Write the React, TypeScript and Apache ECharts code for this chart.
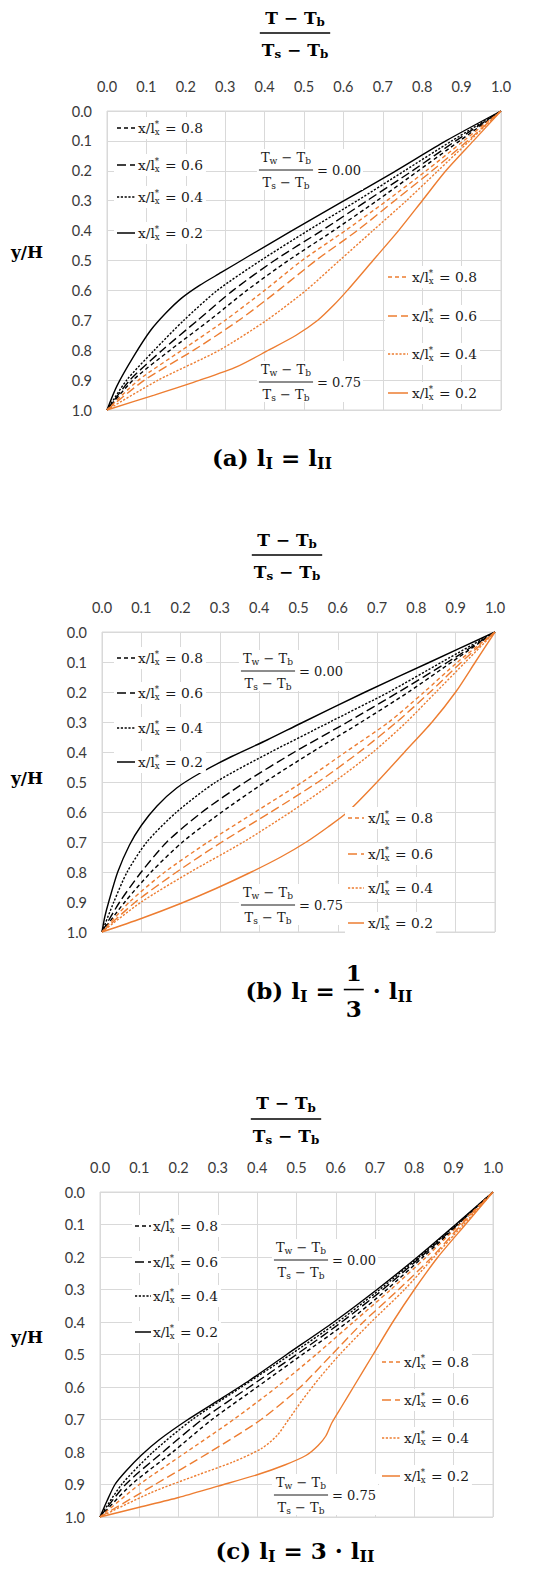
import React, { useEffect, useRef } from "react";
import * as echarts from "echarts";

// ---------------- DATA ----------------
const LEVELS = ["0.8", "0.6", "0.4", "0.2"];

// Panel (a)  l_I = l_II     points are [T ratio, y/H]
const A_B08 = [[0,1],[0.066,0.9],[0.16,0.8],[0.26,0.7],[0.355,0.6],[0.46,0.5],[0.575,0.4],[0.685,0.3],[0.79,0.2],[0.895,0.1],[1,0]];
const A_B06 = [[0,1],[0.058,0.9],[0.14,0.8],[0.23,0.7],[0.32,0.6],[0.425,0.5],[0.545,0.4],[0.66,0.3],[0.775,0.2],[0.885,0.1],[1,0]];
const A_B04 = [[0,1],[0.05,0.9],[0.12,0.8],[0.195,0.7],[0.28,0.6],[0.39,0.5],[0.51,0.4],[0.635,0.3],[0.755,0.2],[0.875,0.1],[1,0]];
const A_B02 = [[0,1],[0.025,0.92],[0.068,0.82],[0.11,0.735],[0.15,0.675],[0.19,0.625],[0.235,0.583],[0.29,0.54],[0.36,0.485],[0.463,0.405],[0.595,0.305],[0.727,0.205],[0.86,0.1],[1,0]];
const A_O08 = [[0,1],[0.08,0.9],[0.19,0.8],[0.3,0.7],[0.4,0.6],[0.495,0.5],[0.605,0.4],[0.71,0.3],[0.81,0.2],[0.905,0.1],[1,0]];
const A_O06 = [[0,1],[0.095,0.9],[0.22,0.8],[0.335,0.7],[0.435,0.6],[0.53,0.5],[0.635,0.4],[0.73,0.3],[0.825,0.2],[0.915,0.1],[1,0]];
const A_O04 = [[0,1],[0.13,0.9],[0.285,0.8],[0.405,0.7],[0.505,0.6],[0.59,0.5],[0.675,0.4],[0.76,0.3],[0.84,0.2],[0.92,0.1],[1,0]];
const A_O02 = [[0,1],[0.12,0.95],[0.236,0.9],[0.33,0.855],[0.41,0.8],[0.48,0.75],[0.535,0.7],[0.575,0.65],[0.61,0.6],[0.675,0.5],[0.74,0.4],[0.8,0.3],[0.86,0.2],[0.93,0.1],[1,0]];

// Panel (b)  l_I = 1/3 l_II
const B_B08 = [[0,1],[0.058,0.9],[0.125,0.8],[0.205,0.7],[0.305,0.6],[0.415,0.5],[0.535,0.4],[0.66,0.3],[0.78,0.2],[0.89,0.1],[1,0]];
const B_B06 = [[0,1],[0.045,0.9],[0.1,0.8],[0.165,0.7],[0.255,0.6],[0.365,0.5],[0.49,0.4],[0.625,0.3],[0.755,0.2],[0.88,0.1],[1,0]];
const B_B04 = [[0,1],[0.03,0.9],[0.064,0.8],[0.114,0.7],[0.19,0.6],[0.29,0.5],[0.43,0.4],[0.58,0.3],[0.73,0.2],[0.865,0.1],[1,0]];
const B_B02 = [[0,1],[0.007,0.95],[0.017,0.9],[0.04,0.8],[0.07,0.71],[0.1,0.645],[0.14,0.58],[0.19,0.52],[0.25,0.47],[0.33,0.415],[0.42,0.36],[0.505,0.305],[0.67,0.2],[0.835,0.1],[1,0]];
const B_O08 = [[0,1],[0.07,0.9],[0.16,0.8],[0.27,0.7],[0.39,0.6],[0.51,0.5],[0.62,0.4],[0.73,0.3],[0.82,0.2],[0.905,0.1],[1,0]];
const B_O06 = [[0,1],[0.085,0.9],[0.19,0.8],[0.305,0.7],[0.43,0.6],[0.55,0.5],[0.655,0.4],[0.75,0.3],[0.835,0.2],[0.915,0.1],[1,0]];
const B_O04 = [[0,1],[0.1,0.9],[0.225,0.8],[0.36,0.7],[0.48,0.6],[0.59,0.5],[0.69,0.4],[0.775,0.3],[0.85,0.2],[0.925,0.1],[1,0]];
const B_O02 = [[0,1],[0.1,0.955],[0.2,0.905],[0.29,0.855],[0.38,0.8],[0.455,0.75],[0.52,0.7],[0.575,0.65],[0.625,0.6],[0.7,0.5],[0.77,0.4],[0.84,0.3],[0.9,0.2],[0.95,0.1],[1,0]];

// Panel (c)  l_I = 3 l_II
const C_B08 = [[0,1],[0.08,0.9],[0.185,0.8],[0.285,0.7],[0.4,0.6],[0.515,0.5],[0.63,0.4],[0.73,0.3],[0.822,0.2],[0.913,0.1],[1,0]];
const C_B06 = [[0,1],[0.065,0.9],[0.16,0.8],[0.26,0.7],[0.38,0.6],[0.5,0.5],[0.615,0.4],[0.72,0.3],[0.816,0.2],[0.91,0.1],[1,0]];
const C_B04 = [[0,1],[0.055,0.9],[0.135,0.8],[0.235,0.7],[0.36,0.6],[0.485,0.5],[0.605,0.4],[0.712,0.3],[0.812,0.2],[0.907,0.1],[1,0]];
const C_B02 = [[0,1],[0.018,0.95],[0.038,0.9],[0.065,0.86],[0.105,0.81],[0.15,0.763],[0.22,0.703],[0.3,0.642],[0.38,0.58],[0.475,0.5],[0.595,0.4],[0.705,0.3],[0.808,0.2],[0.905,0.1],[1,0]];
const C_O08 = [[0,1],[0.1,0.9],[0.22,0.8],[0.34,0.7],[0.45,0.6],[0.55,0.5],[0.645,0.4],[0.74,0.3],[0.83,0.2],[0.915,0.1],[1,0]];
const C_O06 = [[0,1],[0.14,0.9],[0.28,0.8],[0.41,0.7],[0.51,0.6],[0.59,0.5],[0.67,0.4],[0.76,0.3],[0.845,0.2],[0.92,0.1],[1,0]];
const C_O04 = [[0,1],[0.13,0.925],[0.25,0.87],[0.34,0.83],[0.41,0.79],[0.45,0.75],[0.48,0.7],[0.515,0.64],[0.56,0.57],[0.61,0.5],[0.69,0.4],[0.775,0.3],[0.85,0.2],[0.925,0.1],[1,0]];
const C_O02 = [[0,1],[0.1,0.97],[0.2,0.94],[0.3,0.905],[0.4,0.87],[0.47,0.84],[0.525,0.81],[0.555,0.78],[0.575,0.75],[0.59,0.71],[0.615,0.66],[0.65,0.59],[0.695,0.5],[0.745,0.4],[0.8,0.3],[0.86,0.2],[0.93,0.1],[1,0]];

// ---------------- STYLE / LAYOUT ----------------
const BLACK = "#000000";
const ORANGE = "#ED7D31";
const GRID_COLOR = "#d9d9d9";
const DASHES: any[] = [[4, 3], [9, 4], [2.2, 1.6], "solid"];
const SERIF = '"DejaVu Serif", "Liberation Serif", serif';
const SANS = 'Lato, "Open Sans", sans-serif';

const PANELS = [
  {
    grid: { left: 107, top: 111, width: 394, height: 299 },
    title: { cx: 295, cy: 33, up: 15.5, down: 16.5 },
    yh: { x: 27, y: 252 },
    blackLeg: { x0: 117, x1: 135, tx: 138, ys: [128, 165, 197, 233] },
    orangeLeg: { x0: 388, x1: 408, tx: 412, ys: [277, 316, 354, 393] },
    ann0: { cx: 286, cy: 170 },
    ann75: { cx: 286, cy: 382 },
    black: [A_B08, A_B06, A_B04, A_B02],
    orange: [A_O08, A_O06, A_O04, A_O02],
  },
  {
    grid: { left: 102, top: 632, width: 393, height: 300 },
    title: { cx: 287, cy: 555, up: 15.5, down: 16.5 },
    yh: { x: 27, y: 778 },
    blackLeg: { x0: 117, x1: 135, tx: 138, ys: [658, 693, 728, 762] },
    orangeLeg: { x0: 348, x1: 364, tx: 368, ys: [818, 854, 888, 923] },
    ann0: { cx: 268, cy: 671 },
    ann75: { cx: 268, cy: 905 },
    black: [B_B08, B_B06, B_B04, B_B02],
    orange: [B_O08, B_O06, B_O04, B_O02],
  },
  {
    grid: { left: 100, top: 1192, width: 393, height: 325 },
    title: { cx: 286, cy: 1119, up: 16, down: 16.5 },
    yh: { x: 27, y: 1337 },
    blackLeg: { x0: 135, x1: 151, tx: 153, ys: [1226, 1262, 1296, 1332] },
    orangeLeg: { x0: 382, x1: 400, tx: 404, ys: [1362, 1400, 1438, 1476] },
    ann0: { cx: 301, cy: 1260 },
    ann75: { cx: 301, cy: 1495 },
    black: [C_B08, C_B06, C_B04, C_B02],
    orange: [C_O08, C_O06, C_O04, C_O02],
  },
];

// ---------------- TEXT HELPERS ----------------
let mctx: CanvasRenderingContext2D | null = null;
function measure(text: string, size: number, weight: string, family: string) {
  if (!mctx) mctx = document.createElement("canvas").getContext("2d");
  if (!mctx) return text.length * size * 0.55;
  mctx.font = `${weight} ${size}px ${family}`;
  return mctx.measureText(text).width;
}

type Part = { t?: string; k?: number; dy?: number; sup?: string; sub?: string; frac?: [string, string] };

function textEl(x: number, y: number, text: string, size: number, weight: string, family: string, fill: string) {
  return {
    type: "text",
    z: 60,
    x,
    y,
    style: { text, fontSize: size, fontWeight: weight, fontFamily: family, fill, align: "left", verticalAlign: "middle" },
  };
}

function run(parts: Part[], x: number, y: number, size: number, weight: string, family: string, fill: string, align: string) {
  const ss = size * 0.62;
  const widths = parts.map((p) => {
    if (p.t !== undefined) return measure(p.t, size * (p.k ?? 1), weight, family);
    if (p.frac) return Math.max(measure(p.frac[0], size, weight, family), measure(p.frac[1], size, weight, family)) + 6;
    return Math.max(measure(p.sup || "", ss, weight, family), measure(p.sub || "", ss, weight, family)) + 1;
  });
  const total = widths.reduce((a, b) => a + b, 0);
  let cx = align === "center" ? x - total / 2 : align === "right" ? x - total : x;
  const els: any[] = [];
  parts.forEach((p, i) => {
    if (p.t !== undefined) {
      els.push(textEl(cx, y + (p.dy ?? 0) * size, p.t, size * (p.k ?? 1), weight, family, fill));
    } else if (p.frac) {
      const w = widths[i];
      const n = measure(p.frac[0], size, weight, family);
      const d = measure(p.frac[1], size, weight, family);
      els.push(textEl(cx + (w - n) / 2, y - 0.78 * size, p.frac[0], size, weight, family, fill));
      els.push(textEl(cx + (w - d) / 2, y + 0.8 * size, p.frac[1], size, weight, family, fill));
      els.push({ type: "line", z: 60, shape: { x1: cx + 1, y1: y - 0.02 * size, x2: cx + w - 1, y2: y - 0.02 * size }, style: { stroke: fill, lineWidth: 1.6 } });
    } else {
      if (p.sup) els.push(textEl(cx, y - 0.3 * size, p.sup, ss, weight, family, fill));
      if (p.sub) els.push(textEl(cx, y + 0.3 * size, p.sub, ss, weight, family, fill));
    }
    cx += widths[i];
  });
  return { els, width: total };
}

function frac(num: Part[], den: Part[], cx: number, cy: number, up: number, down: number, size: number, weight: string, fill: string, lw: number) {
  const n = run(num, cx, cy - up, size, weight, SERIF, fill, "center");
  const d = run(den, cx, cy + down, size, weight, SERIF, fill, "center");
  const w = Math.max(n.width, d.width) + 4;
  return {
    els: [...n.els, ...d.els, { type: "line", z: 60, shape: { x1: cx - w / 2, y1: cy, x2: cx + w / 2, y2: cy }, style: { stroke: fill, lineWidth: lw } }],
    width: w,
  };
}

const SUB = (t: string): Part => ({ t, k: 0.7, dy: 0.28 });

function buildGraphics() {
  const els: any[] = [];
  const TXT = "#1a1a1a";
  PANELS.forEach((p) => {
    const tt = p.title;
    els.push(...frac([{ t: "T − T" }, SUB("b")], [{ t: "T" }, SUB("s"), { t: " − T" }, SUB("b")], tt.cx, tt.cy, tt.up, tt.down, 17, "bold", BLACK, 1.5).els);
    els.push(...run([{ t: "y/H" }], p.yh.x, p.yh.y, 17, "bold", SERIF, BLACK, "center").els);
    const legs = [
      { L: p.blackLeg, color: BLACK },
      { L: p.orangeLeg, color: ORANGE },
    ];
    legs.forEach(({ L, color }) => {
      LEVELS.forEach((lv, j) => {
        const y = L.ys[j];
        const r = run([{ t: "x/l" }, { sup: "*", sub: "x" }, { t: " = " + lv }], L.tx, y, 13.8, "normal", SERIF, TXT, "left");
        els.push({ type: "rect", z: 55, shape: { x: L.x0 - 3, y: y - 11, width: L.tx + r.width - L.x0 + 6, height: 22 }, style: { fill: "#ffffff" } });
        els.push({
          type: "line",
          z: 60,
          shape: { x1: L.x0, y1: y, x2: L.x1, y2: y },
          style: { stroke: color, lineWidth: 1.5, lineDash: DASHES[j] === "solid" ? null : DASHES[j] },
        });
        els.push(...r.els);
      });
    });
    [
      { a: p.ann0, v: "= 0.00" },
      { a: p.ann75, v: "= 0.75" },
    ].forEach(({ a, v }) => {
      const f = frac([{ t: "T" }, SUB("w"), { t: " − T" }, SUB("b")], [{ t: "T" }, SUB("s"), { t: " − T" }, SUB("b")], a.cx, a.cy, 12.5, 12.5, 13, "normal", TXT, 1);
      const ex = a.cx + f.width / 2 + 4;
      const r = run([{ t: v }], ex, a.cy, 13, "normal", SERIF, TXT, "left");
      els.push({ type: "rect", z: 55, shape: { x: a.cx - f.width / 2 - 2, y: a.cy - 21, width: f.width + 4 + r.width + 4, height: 41 }, style: { fill: "#ffffff" } });
      els.push(...f.els, ...r.els);
    });
  });
  els.push(...run([{ t: "(a) l" }, SUB("I"), { t: " = l" }, SUB("II")], 272, 457, 23, "bold", SERIF, BLACK, "center").els);
  els.push(...run([{ t: "(b) l" }, SUB("I"), { t: " = " }, { frac: ["1", "3"] }, { t: " · l" }, SUB("II")], 329, 990, 23, "bold", SERIF, BLACK, "center").els);
  els.push(...run([{ t: "(c) l" }, SUB("I"), { t: " = 3 · l" }, SUB("II")], 295, 1550, 23, "bold", SERIF, BLACK, "center").els);
  return els;
}

// ---------------- CHART ----------------
function buildOption() {
  const grids: any[] = [];
  const xAxes: any[] = [];
  const yAxes: any[] = [];
  const series: any[] = [];
  PANELS.forEach((p, i) => {
    grids.push({ ...p.grid, show: true, borderColor: GRID_COLOR, borderWidth: 1, containLabel: false });
    xAxes.push({
      gridIndex: i,
      type: "value",
      position: "top",
      min: 0,
      max: 1,
      interval: 0.1,
      axisLine: { show: false },
      axisTick: { show: false },
      axisLabel: { formatter: (v: number) => v.toFixed(1), fontFamily: SANS, fontSize: 14.5, color: "#3a3a3a", margin: 17 },
      splitLine: { show: true, lineStyle: { color: GRID_COLOR, width: 1 } },
    });
    yAxes.push({
      gridIndex: i,
      type: "value",
      inverse: true,
      min: 0,
      max: 1,
      interval: 0.1,
      axisLine: { show: false },
      axisTick: { show: false },
      axisLabel: { formatter: (v: number) => v.toFixed(1), fontFamily: SANS, fontSize: 14.5, color: "#3a3a3a", margin: 15 },
      splitLine: { show: true, lineStyle: { color: GRID_COLOR, width: 1 } },
    });
    const mk = (data: number[][], color: string, j: number) => ({
      type: "line",
      xAxisIndex: i,
      yAxisIndex: i,
      data,
      showSymbol: false,
      symbol: "none",
      smooth: 0.25,
      silent: true,
      z: 3,
      lineStyle: { color, width: 1.4, type: DASHES[j] },
    });
    p.black.forEach((d, j) => series.push(mk(d, BLACK, j)));
    p.orange.forEach((d, j) => series.push(mk(d, ORANGE, j)));
  });
  return {
    animation: false,
    backgroundColor: "#ffffff",
    grid: grids,
    xAxis: xAxes,
    yAxis: yAxes,
    series,
    graphic: { elements: buildGraphics() },
  };
}

export default function App() {
  const ref = useRef<HTMLDivElement>(null);
  useEffect(() => {
    if (!ref.current) return;
    const chart = echarts.init(ref.current, null, { renderer: "svg" });
    chart.setOption(buildOption() as any);
    return () => chart.dispose();
  }, []);
  return <div ref={ref} style={{ position: "absolute", left: 0, top: 0, width: 550, height: 1576, background: "#fff" }} />;
}
